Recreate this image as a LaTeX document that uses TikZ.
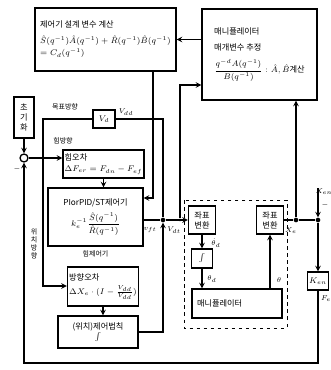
\documentclass[tikz,border=0pt]{standalone}
\usepackage{amsmath}
\usepackage{fontspec}
\newfontfamily\kr{Noto Sans CJK KR}
\usetikzlibrary{positioning}
\tikzset{
  blk/.style={draw,line width=1.1pt,inner sep=1.5pt},
  sig/.style={line width=1.1pt},
  lbl/.style={inner sep=0.5pt,font=\kr\fontsize{6}{7}\selectfont},
  jdot/.style={circle,fill,inner sep=0pt,minimum size=0.14cm},
}
\begin{document}
\begin{tikzpicture}[>=stealth,x=0.03cm,y=-0.03cm,font=\kr\fontsize{7}{8.5}\selectfont]
\useasboundingbox (0,0) rectangle (330,370);
% upper blocks
\node[blk,minimum width=4.23cm,minimum height=1.89cm,align=left] (design) at (105.5,39.5)
  {제어기 설계 변수 계산\\[5pt] $\hat S(q^{-1})\hat A(q^{-1})+\hat R(q^{-1})\hat B(q^{-1})$\\[2pt] $=C_d(q^{-1})$};
\node[blk,minimum width=3.45cm,minimum height=2.73cm,align=left] (est) at (259.5,54.5)
  {매니퓰레이터\\[5pt] 매개변수 추정\\[6pt] $\dfrac{q^{-d}A(q^{-1})}{B(q^{-1})}:\hat A,\hat B$계산};
% force side
\node[blk,minimum width=0.6cm,minimum height=1.23cm,align=center,inner sep=0.5pt] (init) at (24,117.5) {초\\기\\화};
\node[draw,circle,line width=1.1pt,minimum size=0.24cm,inner sep=0pt] (sum) at (24,158) {};
\node[blk,minimum width=0.66cm,minimum height=0.54cm] (vd) at (104,119) {$V_d$};
\node[blk,minimum width=2.19cm,minimum height=0.84cm,align=left] (ferr) at (103.5,164)
  {힘오차\\[1pt] $\Delta F_{er}=F_{dn}-F_{ef}$};
\node[blk,minimum width=2.85cm,minimum height=1.74cm,align=center] (pid) at (95.5,217)
  {PIorPID/ST제어기\\[4pt] $k_e^{-1}\dfrac{\hat S(q^{-1})}{\hat R(q^{-1})}$};
\node[lbl,below=3pt of pid] (tforce) {힘제어기};
% position side
\node[blk,minimum width=2.1cm,minimum height=1.17cm,align=left] (perr) at (103,286.5)
  {방향오차\\[3pt] $\Delta X_e\cdot(I-\frac{V_{dd}}{V_{dd}})$};
\node[blk,minimum width=2.4cm,minimum height=0.96cm,align=center] (plaw) at (98,332)
  {(위치)제어법칙\\ $\int$};
% manipulator part
\draw[dashed,line width=0.6pt] (184,200) rectangle (287,328);
\node[blk,minimum width=0.81cm,minimum height=0.84cm,align=center,inner sep=0.5pt] (cv1) at (202,220) {좌표\\변환};
\node[blk,minimum width=0.81cm,minimum height=0.84cm,align=center,inner sep=0.5pt] (cv2) at (270,220) {좌표\\변환};
\node[blk,minimum width=0.63cm,minimum height=0.57cm] (int) at (202,258.5) {$\int$};
\node[blk,minimum width=2.7cm,minimum height=0.87cm,text width=2.4cm] (manip) at (237,303.5) {매니퓰레이터};
\node[blk,minimum width=0.63cm,minimum height=0.54cm,inner sep=0.5pt] (ken) at (318,281) {$K_{en}$};
% junctions
\node[jdot] (j1) at (163,220) {};
\node[jdot] (j2) at (296,220) {};
\node[jdot] (j3) at (318,220) {};
\node[jdot,minimum size=0.08cm] (etap) at (180,220) {};
\coordinate (xen) at (318,188);
\coordinate (lc) at (43,286);
\coordinate (dc) at (153,198);
\coordinate (ec) at (180,85);
\coordinate (bc) at (318,363);
% connectors
\draw[sig,->] (est.west |- design) -- (design.east);
\draw[sig,->] (design.south -| dc) -- (dc) -- (dc -| pid.east);
\draw[sig,->] (init) -- (sum);
\draw[sig,->] (sum) -- (sum -| ferr.west);
\draw[sig,->] (ferr) -- (ferr |- pid.north);
\draw[sig] (pid.east |- j1) -- (j1);
\draw[sig] (vd.east) -| (j1);
\draw[sig,->] (vd.west) -| (lc) -- (perr.west |- lc);
\draw[sig,->] (perr) -- (perr |- plaw.north);
\draw[sig,->] (plaw.east) -| (j1);
\draw[sig,->] (j1) -- (j1 -| cv1.west);
\draw[sig,->] (etap) -- (ec) -- (ec -| est.west);
\draw[sig,->] (cv1) -- (int);
\draw[sig,->] (int) -- (int |- manip.north);
\draw[sig,->] (manip.north -| cv2) -- (cv2);
\draw[sig] (cv2.east |- j2) -- (j2) -- (j3);
\draw[sig,->] (j2) -- (j2 |- est.south);
\draw[sig,->] (xen) -- (j3);
\draw[sig,->] (j3) -- (ken);
\draw[sig,->] (ken) -- (bc) -| (sum);
% labels
\node[lbl] at (65,107) {목표방향};
\node[lbl] at (126,112) {$V_{dd}$};
\node[lbl] at (63,141) {힘방향};
\node[lbl] at (17,169) {$-$};
\node[lbl,align=center] at (34,244) {위\\치\\방\\향};
\node[lbl] at (150,230) {$v_{ft}$};
\node[lbl] at (174,230) {$V_{dt}$};
\node[lbl] at (216,243) {$\dot\theta_d$};
\node[lbl] at (212,279) {$\theta_d$};
\node[lbl] at (279,280) {$\theta$};
\node[lbl] at (291,231) {$X_e$};
\node[lbl] at (324,192) {$X_{en}$};
\node[lbl] at (325,205) {$-$};
\node[lbl] at (326,299) {$F_e$};
\end{tikzpicture}
\end{document}
